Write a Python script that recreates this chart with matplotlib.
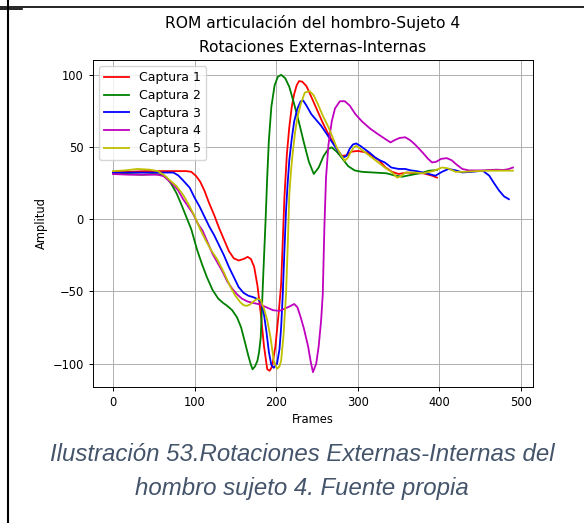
import matplotlib
matplotlib.use("Agg")
import matplotlib.pyplot as plt
from matplotlib.lines import Line2D

# Captura 1 (red)
x1 = [0, 20, 40, 60, 80, 90, 96, 102, 107, 112, 118, 124, 130, 136, 142, 148, 154, 160, 165, 169,
      173, 177, 181, 185, 189, 192, 195, 199, 203, 206, 208, 210, 213, 216, 219, 222, 225, 228, 232,
      237, 243, 250, 257, 264, 272, 280, 286, 292, 300, 310, 318, 326, 334, 342, 350, 360, 370, 380,
      390, 397]
y1 = [33, 33, 33.5, 33.5, 33.5, 33.5, 33, 30, 26, 20, 11, 3, -6, -14, -22, -27, -28.5, -27.5, -26, -27.5,
      -33, -46, -65, -88, -104, -105, -102, -88, -65, -45, -15, 15, 45, 64, 78, 87, 93, 96, 95.5,
      92.5, 85, 76, 67, 59, 51, 44, 44.5, 47, 47.5, 46.5, 44, 41, 36, 33, 31.5, 32.5, 32, 32,
      30.5, 29]

# Captura 2 (green)
x2 = [0, 20, 35, 50, 60, 66, 72, 78, 84, 90, 96, 103, 109, 115, 122, 129, 135, 140, 146, 152, 157,
      162, 166, 169, 171, 174, 177, 179, 181, 184, 187, 189, 191, 194, 198, 202, 206, 211, 216, 222,
      228, 234, 240, 246, 252, 258, 264, 268, 274, 280, 288, 296, 305, 320, 335, 345, 354, 362, 371,
      380, 387, 392, 397]
y2 = [32, 31.5, 31, 31.5, 31, 29, 24, 18, 10, 1.5, -7, -21, -31, -40, -49, -55, -58, -60, -63, -68, -75,
      -86, -95, -101, -104, -102, -98, -92, -82, -40, 0, 30, 55, 78, 93, 99, 100.3, 98, 92, 80,
      67, 53, 40, 31.5, 36, 44, 49, 50, 47, 43, 37, 34, 33, 32.5, 32, 30.5, 29.6, 30.5, 31.5,
      32.5, 33.8, 34, 34.3]

# Captura 3 (blue)
x3 = [0, 20, 40, 60, 74, 80, 86, 94, 100, 106, 112, 118, 124, 130, 136, 142, 148, 154, 160, 166, 172,
      178, 182, 185, 188, 191, 194, 197, 201, 204, 206, 208, 210, 212, 214, 216, 219, 222, 226, 230,
      233, 237, 243, 249, 255, 261, 268, 275, 282, 286, 290, 294, 298, 303, 309, 315, 321, 327, 333,
      341, 350, 358, 365, 372, 379, 387, 395, 403, 411, 420, 428, 440, 453, 461, 467, 473, 479, 485]
y3 = [32.5, 32.5, 32.5, 32.5, 32.5, 30.5, 27, 22, 15, 9, 2, -5, -11, -18, -25, -33, -40, -47, -51, -53, -54,
      -55.5, -58, -66, -78, -92, -101, -103, -100, -90, -75, -52, -22, 6, 25, 41, 56, 68, 77, 82,
      82.5, 79, 73, 69, 65, 60, 54, 48, 43, 44, 49, 52, 52.7, 51, 48.5, 46, 43, 41, 39.5,
      36, 35, 35, 34, 33.5, 32.6, 31.5, 30.3, 33, 35, 34, 32.6, 33, 33.8, 30.3, 25, 20, 16, 14]

# Captura 4 (magenta)
x4 = [0, 20, 40, 55, 62, 68, 74, 80, 86, 92, 98, 104, 110, 116, 122, 128, 134, 140, 146, 152, 158,
      165, 172, 180, 188, 196, 204, 210, 216, 222, 226, 230, 234, 239, 242, 245, 249, 252, 255, 257,
      259, 261, 264, 268, 272, 278, 284, 290, 297, 305, 315, 325, 333, 340, 345, 351, 358, 364, 370,
      375, 380, 386, 391, 396, 402, 409, 415, 421, 428, 436, 445, 453, 460, 470, 478, 484, 490]
y4 = [31.5, 31, 31, 31, 30, 27, 24, 20, 14, 9, 4, -3, -8, -16, -24, -30, -36, -43, -48, -52, -55,
      -57, -58, -59, -61, -63, -63.5, -62, -60.5, -58.7, -61, -68, -76, -88, -98, -106, -100, -88, -70, -52,
      -5, 29, 52, 68, 77, 82, 82, 79, 73, 68, 63, 59, 56, 53.4, 55, 56.5, 57, 55, 52,
      49, 46, 42, 39.5, 40, 42, 42.5, 41, 38, 35, 34, 34, 34, 34.3, 34.5, 34.3, 34.8, 36]

# Captura 5 (yellow)
x5 = [0, 15, 30, 45, 55, 62, 70, 78, 86, 94, 101, 107, 114, 121, 128, 136, 144, 150, 156, 160, 164,
      168, 172, 177, 181, 185, 189, 193, 197, 201, 204, 206, 209, 212, 214, 216, 218, 220, 223, 226,
      230, 235, 241, 246, 251, 257, 264, 269, 274, 279, 284, 288, 291, 295, 298, 303, 309, 317, 325,
      333, 342, 348, 353, 358, 370, 380, 392, 403, 410, 420, 430, 445, 460, 475, 490]
y5 = [33.5, 34, 35, 34.5, 33.5, 31, 27, 23, 17, 9, 1, -7, -15, -22, -28, -37, -47, -53, -57.5, -59.5, -60,
      -59, -57, -55, -56, -62, -70, -82, -98, -103.7, -102, -98, -80, -52, -20, 17, 33, 45, 60, 71,
      80, 88, 89, 86, 80, 72, 64, 57, 50, 45, 40.7, 43, 46.5, 50, 51, 49, 46.5, 43, 39.5,
      36, 32.6, 29, 30, 32.5, 32.5, 32, 33.5, 36, 35.5, 33, 33, 33.5, 33.8, 33.8, 33.8]

series = [(x1, y1, 'r', 'Captura 1'), (x2, y2, 'g', 'Captura 2'), (x3, y3, 'b', 'Captura 3'),
          (x4, y4, 'm', 'Captura 4'), (x5, y5, 'y', 'Captura 5')]

fig = plt.figure(figsize=(5.84, 5.23), dpi=100)
ax = fig.add_axes([0.1592, 0.26, 0.7534, 0.6253])

for xs, ys, c, lab in series:
    ax.plot(xs, ys, color=c, lw=1.3, label=lab)

ax.grid(True, color='#b0b0b0', lw=0.7)
ax.set_title('ROM articulación del hombro-Sujeto 4\nRotaciones Externas-Internas', fontsize=11.2, pad=6,
             linespacing=1.7)
ax.set_xlabel('Frames', fontsize=8.3, labelpad=3)
ax.set_ylabel('Amplitud', fontsize=8.3, labelpad=3)
ax.tick_params(labelsize=8.3, length=3, width=0.7)
for s in ax.spines.values():
    s.set_linewidth(0.7)
ax.legend(loc='upper left', fontsize=9, labelspacing=0.38, borderpad=0.4)

# caption under the figure
fig.text(0.517, 0.099, 'Ilustración 53.Rotaciones Externas-Internas del\nhombro sujeto 4. Fuente propia',
         ha='center', va='center', fontsize=17.3, style='italic', color='#44546A',
         family='Liberation Sans', linespacing=1.63)

# page border lines
fig.add_artist(Line2D([7.5 / 584, 7.5 / 584], [0, 1], color='black', lw=1.5))
fig.add_artist(Line2D([0, 1], [1 - 7 / 523, 1 - 7 / 523], color='black', lw=1.2))
fig.add_artist(Line2D([0, 22 / 584], [1 - 9 / 523, 1 - 9 / 523], color='black', lw=1.2))

fig.savefig('out.png', dpi=100)
